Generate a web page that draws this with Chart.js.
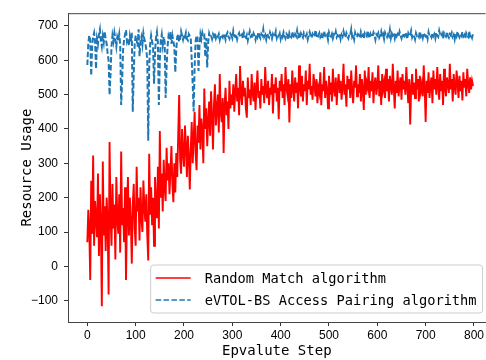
<!DOCTYPE html>
<html>
<head>
<meta charset="utf-8">
<script src="https://cdn.jsdelivr.net/npm/chart.js@4/dist/chart.umd.min.js"></script>
<style>
html,body{margin:0;padding:0;background:#fff;}
canvas{display:block;}
</style>
</head>
<body>
<canvas id="c" width="486" height="360"></canvas>
<script>
// ---- data (one value every 2 steps) ----
const STEP_INTERVAL = 2;
const seriesNames = ["Random Match algorithm", "eVTOL-BS Access Pairing algorithm"];
const xTickValues = [0, 100, 200, 300, 400, 500, 600, 700, 800];
const yTickValues = [-100, 0, 100, 200, 300, 400, 500, 600, 700];

const randomMatch = [
70,165,110,-40,249,95,323,60,190,140,85,270,30,210,120,-116,305,90,175,45,
200,130,-82,362,150,60,240,110,180,20,260,140,95,210,40,334,120,170,70,230,
-40,150,260,90,200,130,8,180,240,110,60,290,160,200,75,230,140,100,250,170,
130,210,90,17,328,150,230,120,200,60,260,180,140,290,110,394,200,270,160,310,
230,190,345,250,300,210,280,350,240,187,300,215,330,260,380,499,310,270,400,330,
290,410,350,260,380,320,224,340,420,300,370,450,330,280,410,360,470,340,430,390,
300,518,400,460,350,420,480,380,510,440,340,470,530,410,460,500,390,560,450,420,
490,330,470,520,440,480,400,540,460,500,470,530,450,510,560,480,520,440,583,500,
470,540,495,520,460,433,550,490,515,470,560,505,480,535,455,520,570,490,510,460,
545,500,525,475,580,510,490,540,470,520,500,560,445,530,505,550,480,520,428,540,
510,560,490,530,470,580,520,500,545,419,530,490,570,515,480,550,505,535,460,585,
520,495,555,480,530,510,570,470,540,515,590,500,525,485,560,530,495,545,475,520,
505,565,469,530,510,580,490,540,520,460,555,500,535,480,575,515,495,550,470,530,
560,505,540,485,520,590,500,530,465,555,515,545,490,570,510,475,540,520,585,495,
530,505,560,480,545,515,455,570,500,535,520,580,490,540,510,565,475,530,550,500,
525,585,495,540,470,560,515,535,490,575,510,545,480,555,525,500,590,520,460,540,
505,570,495,530,550,485,560,515,540,500,580,525,475,545,413,520,560,500,535,490,
575,515,545,480,555,510,530,495,585,520,420,540,505,565,490,530,550,475,570,515,
545,500,580,525,485,560,510,540,470,575,520,495,550,530,505,590,515,545,480,560,
525,500,570,535,490,555,510,540,483,565,520,545,495,575,530,505,550,515,540,525
];

const accessPairing = [
586,650,672,660,555,645,668,680,655,575,662,648,675,690,658,640,670,652,684,661,
648,620,600,499,560,640,672,655,680,662,640,668,658,676,646,470,540,630,660,675,
688,655,664,642,670,652,680,450,560,648,672,660,640,690,612,655,668,646,679,662,
650,632,600,366,580,648,672,655,640,532,620,665,682,650,470,600,658,675,644,668,
652,490,580,640,670,660,682,648,672,655,640,565,630,668,676,654,662,684,672,660,
674,668,680,662,658,676,670,664,600,530,451,580,655,672,666,569,640,676,662,680,
668,672,610,665,579,652,678,668,672,662,676,670,681,664,672,668,676,660,674,670,
666,678,672,660,675,681,669,663,677,672,664,685,670,668,676,661,673,679,667,671,
675,662,680,670,666,674,658,672,684,669,673,665,678,671,660,676,668,682,670,664,
677,672,690,668,674,661,679,670,666,681,673,663,676,669,672,684,665,674,670,678,
662,675,668,681,671,664,677,673,660,679,670,667,683,672,665,676,670,686,668,674,
663,678,671,666,680,674,669,676,661,673,682,670,665,677,672,668,688,675,664,671,
679,667,673,662,676,685,670,668,674,660,681,672,669,677,664,675,671,683,667,673,
670,678,662,675,669,684,672,666,679,671,664,676,673,690,668,674,661,680,670,667,
676,672,665,682,670,674,663,678,671,669,686,673,664,677,670,668,681,674,660,675,
671,679,666,673,684,669,676,662,680,672,667,675,670,688,665,678,671,674,663,679,
670,676,668,683,672,664,677,671,669,681,674,662,678,670,673,686,667,675,672,661,
679,671,674,668,684,670,676,665,680,672,669,677,663,682,671,674,667,679,670,676,
664,681,672,668,686,674,670,677,662,679,673,669,683,671,666,676,672,680,668,674,
661,678,670,684,673,667,676,671,682,669,674,664,679,672,668,685,670,675,666,678
];

const toPoints = arr => arr.map((v, i) => ({ x: i * STEP_INTERVAL, y: v }));

const monoFont = "'DejaVu Sans Mono', 'Liberation Mono', monospace";
const sansFont = "'Liberation Sans', Arial, sans-serif";

const frameAndLegend = {
  id: 'frameAndLegend',
  afterDraw(chart) {
    const ctx = chart.ctx;
    const a = chart.chartArea;
    ctx.save();
    // top spine
    ctx.strokeStyle = '#444';
    ctx.lineWidth = 1;
    ctx.beginPath();
    ctx.moveTo(a.left, a.top + 0.5);
    ctx.lineTo(a.right, a.top + 0.5);
    ctx.stroke();

    // legend inside lower right
    ctx.font = '13.7px ' + monoFont;
    const ds = chart.data.datasets;
    let maxW = 0;
    ds.forEach(d => { maxW = Math.max(maxW, ctx.measureText(d.label).width); });
    const lineLen = 35, gap = 14, padL = 5, padR = 6, rowH = 22;
    const w = padL + lineLen + gap + maxW + padR;
    const h = rowH * ds.length + 4;
    const x = a.right - 3 - w;
    const y = a.bottom - 9 - h;
    const r = 3;
    ctx.beginPath();
    ctx.moveTo(x + r, y);
    ctx.lineTo(x + w - r, y);
    ctx.arcTo(x + w, y, x + w, y + r, r);
    ctx.lineTo(x + w, y + h - r);
    ctx.arcTo(x + w, y + h, x + w - r, y + h, r);
    ctx.lineTo(x + r, y + h);
    ctx.arcTo(x, y + h, x, y + h - r, r);
    ctx.lineTo(x, y + r);
    ctx.arcTo(x, y, x + r, y, r);
    ctx.closePath();
    ctx.fillStyle = 'rgba(255,255,255,0.8)';
    ctx.fill();
    ctx.strokeStyle = '#cccccc';
    ctx.lineWidth = 1;
    ctx.stroke();

    ctx.textBaseline = 'middle';
    ctx.textAlign = 'left';
    ds.forEach((d, i) => {
      const cy = y + 13 + i * rowH;
      ctx.beginPath();
      ctx.strokeStyle = d.borderColor;
      ctx.lineWidth = 1.5;
      ctx.setLineDash(d.borderDash || []);
      ctx.moveTo(x + padL, cy);
      ctx.lineTo(x + padL + lineLen, cy);
      ctx.stroke();
      ctx.setLineDash([]);
      ctx.fillStyle = '#000';
      ctx.fillText(d.label, x + padL + lineLen + gap, cy + 1);
    });
    ctx.restore();
  }
};

new Chart(document.getElementById('c'), {
  type: 'line',
  data: {
    datasets: [
      {
        label: seriesNames[0],
        data: toPoints(randomMatch),
        borderColor: '#ff0000',
        borderWidth: 1.9,
        pointRadius: 0,
        tension: 0,
        fill: false,
        order: 2
      },
      {
        label: seriesNames[1],
        data: toPoints(accessPairing),
        borderColor: '#1f77b4',
        borderWidth: 2,
        borderDash: [5.5, 2.4],
        pointRadius: 0,
        tension: 0,
        fill: false,
        order: 1
      }
    ]
  },
  options: {
    responsive: false,
    animation: false,
    devicePixelRatio: 1,
    layout: { padding: { top: 5, right: 0, left: 0, bottom: 0 } },
    plugins: { legend: { display: false }, tooltip: { enabled: false } },
    scales: {
      x: {
        type: 'linear',
        min: -40,
        max: 824,
        afterBuildTicks: s => { s.ticks = xTickValues.map(v => ({ value: v })); },
        afterFit: s => { s.height = 38; },
        grid: { drawOnChartArea: false, drawTicks: true, tickLength: 4, color: '#333' },
        border: { display: true, color: '#444', width: 1 },
        ticks: { color: '#000', font: { family: sansFont, size: 12 }, padding: 2, maxRotation: 0, autoSkip: false },
        title: { display: true, text: 'Epvalute Step', color: '#000', font: { family: monoFont, size: 14 }, padding: { top: 0, bottom: 0 } }
      },
      y: {
        type: 'linear',
        min: -162,
        max: 737,
        afterBuildTicks: s => { s.ticks = yTickValues.map(v => ({ value: v })); },
        afterFit: s => { s.width = 68; },
        grid: { drawOnChartArea: false, drawTicks: true, tickLength: 4, color: '#333' },
        border: { display: true, color: '#444', width: 1 },
        ticks: { color: '#000', font: { family: sansFont, size: 12 }, padding: 6, autoSkip: false,
          callback: v => (v < 0 ? '\u2212' + Math.abs(v) : String(v)) },
        title: { display: true, text: 'Resource Usage', color: '#000', font: { family: monoFont, size: 14 }, padding: { top: 19, bottom: 0 } }
      }
    }
  },
  plugins: [frameAndLegend]
});
</script>
</body>
</html>
